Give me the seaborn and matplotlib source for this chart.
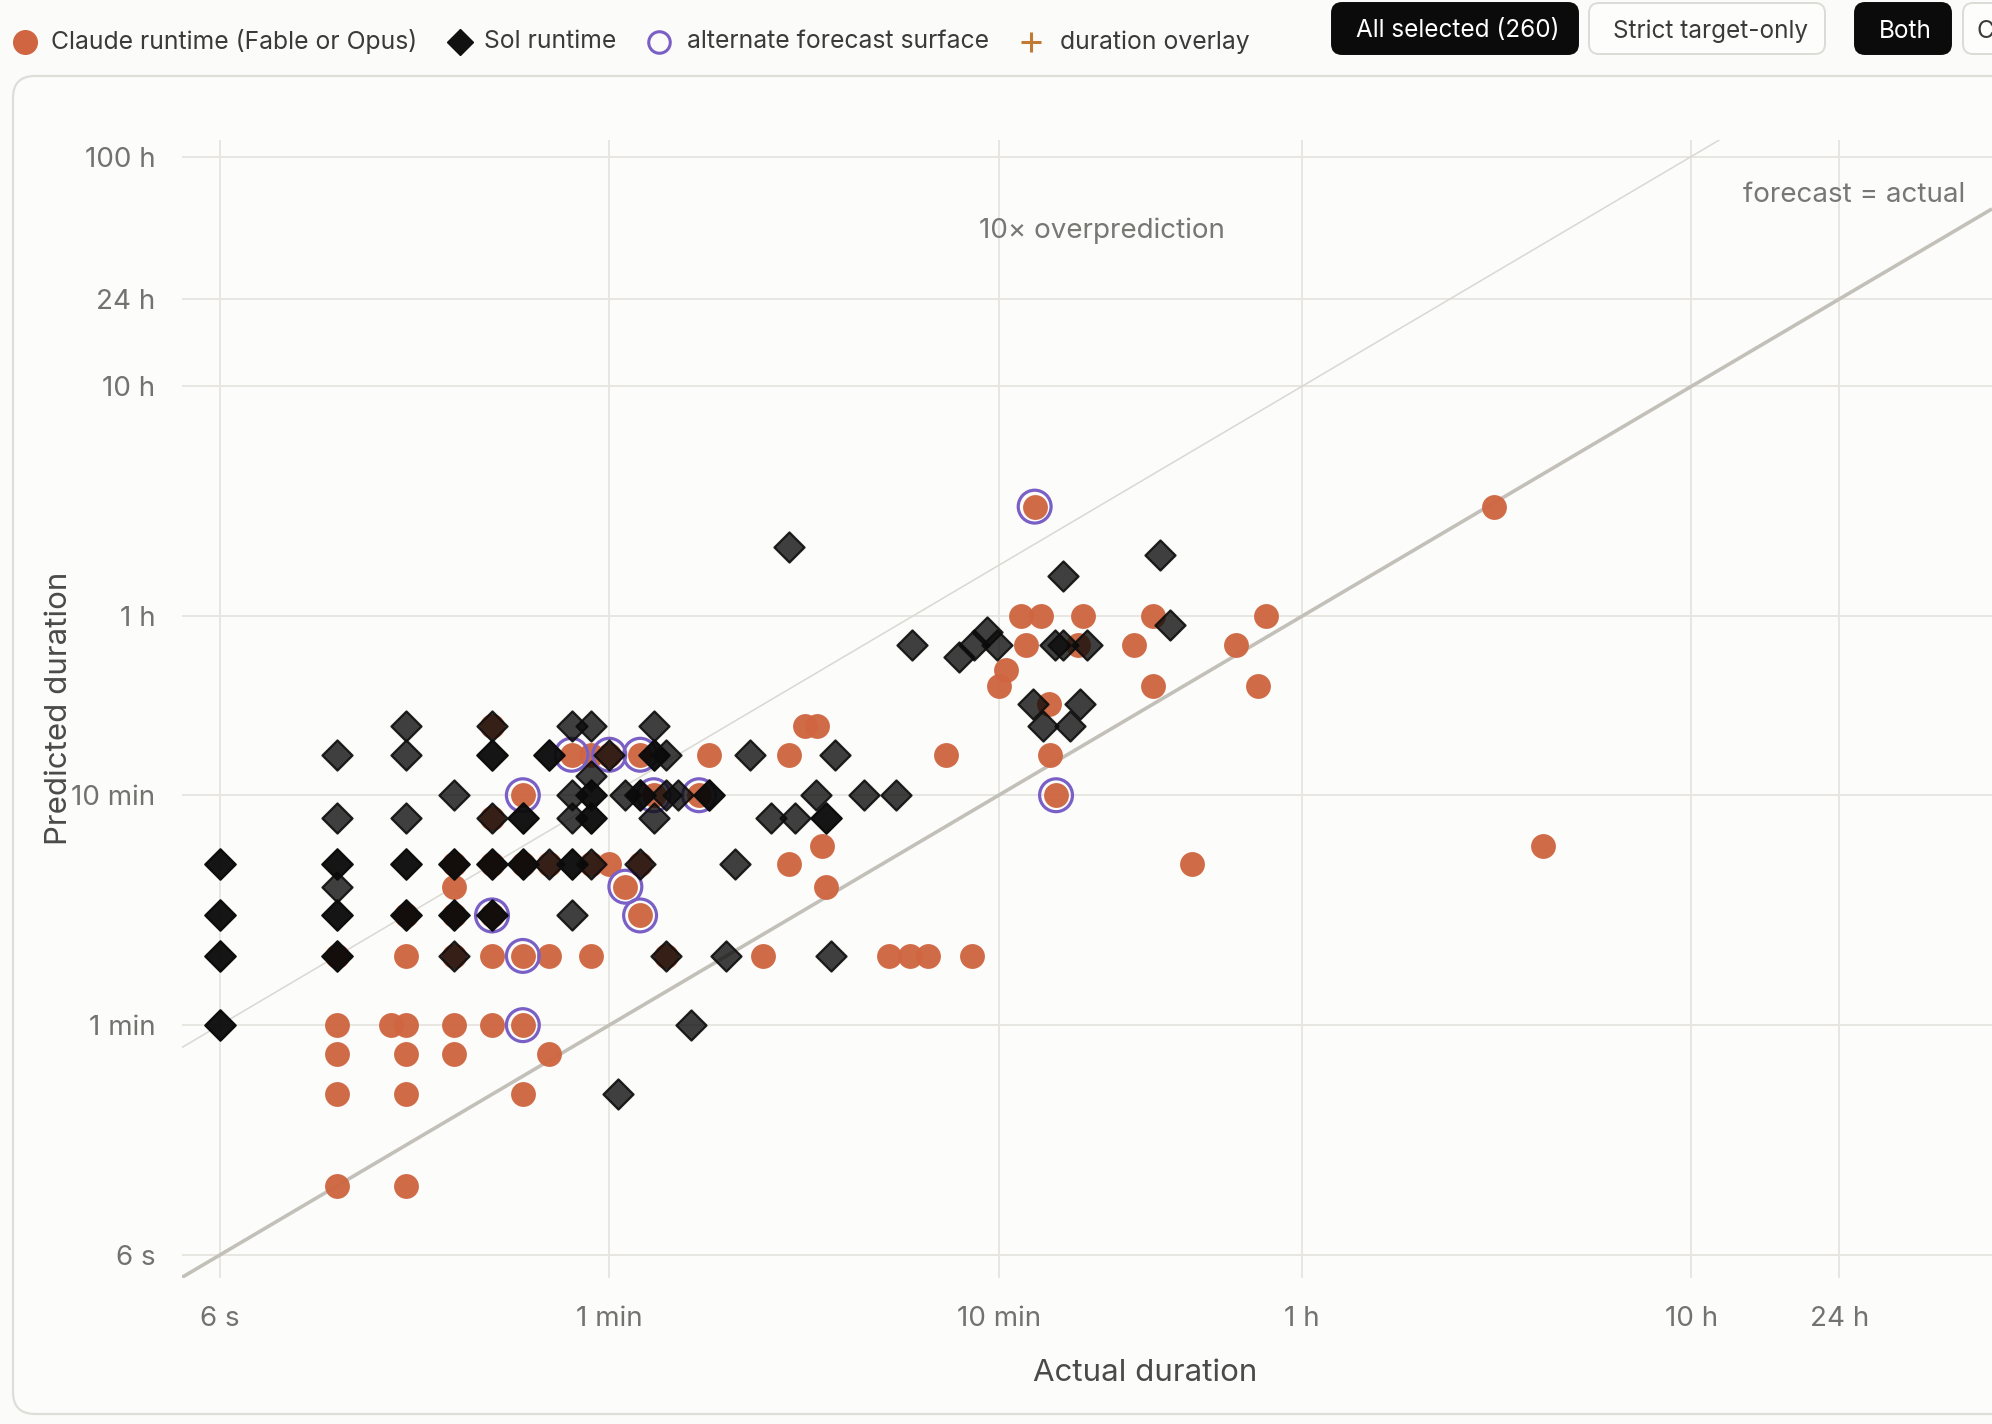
import numpy as np
import pandas as pd
import matplotlib.pyplot as plt
import seaborn as sns
from matplotlib.patches import FancyBboxPatch
from matplotlib.lines import Line2D
from matplotlib.transforms import IdentityTransform

# ── data (seconds) ─────────────────────────────────
claude_actual = [12, 18,
                 12, 18, 36,
                 12, 18, 24, 42,
                 12, 16.5, 18, 24, 30, 36,
                 12, 18, 24, 30, 36, 42, 54, 84, 149, 314, 355, 394, 512,
                 18, 24, 30, 72,
                 24, 66, 216,
                 24, 30, 36, 42, 54, 60, 72, 174, 1879,
                 211, 14939,
                 30,
                 36, 78, 102, 842,
                 48, 54, 60, 72, 108, 174, 440, 812,
                 30, 191, 205,
                 808,
                 600, 1494, 2772,
                 627,
                 705, 958, 1333, 2434,
                 685, 770, 989, 1496, 2905,
                 742, 11232]
claude_pred = [12, 12,
               30, 30, 30,
               45, 45, 45, 45,
               60, 60, 60, 60, 60, 60,
               120, 120, 120, 120, 120, 120, 120, 120, 120, 120, 120, 120, 120,
               180, 180, 180, 180,
               240, 240, 240,
               300, 300, 300, 300, 300, 300, 300, 300, 300,
               360, 360,
               480,
               600, 600, 600, 600,
               900, 900, 900, 900, 900, 900, 900, 900,
               1200, 1200, 1200,
               1500,
               1800, 1800, 1800,
               2100,
               2700, 2700, 2700, 2700,
               3600, 3600, 3600, 3600, 3600,
               10800, 10800]

sol_actual = [6, 6, 6, 6, 6, 6, 6, 6,
              12, 12, 12, 12, 12, 12, 12, 12, 12,
              18, 18, 18, 18, 18, 18, 18,
              24, 24, 24, 24, 24, 24,
              30, 30, 30, 30, 30, 30, 30, 30,
              36, 36, 36, 36,
              42, 42, 42,
              48, 48, 48, 48, 48, 48,
              54, 54, 54, 54, 54, 54, 54,
              60, 63, 66,
              72, 72, 72,
              78, 78, 78, 78,
              84, 84, 84,
              90, 97, 108, 108,
              120, 126, 138, 156, 174, 180, 204, 216, 216, 222, 228, 270, 326,
              360, 474, 518, 561, 594, 838, 877, 1012,
              733, 971, 780, 913, 877, 1558, 1650]
sol_pred = [60, 60, 120, 120, 180, 180, 300, 300,
            120, 120, 180, 180, 240, 300, 300, 480, 900,
            180, 180, 300, 300, 480, 900, 1200,
            120, 180, 180, 300, 300, 600,
            180, 180, 300, 300, 480, 900, 900, 1200,
            300, 300, 480, 480,
            300, 900, 900,
            180, 300, 300, 480, 600, 1200,
            300, 480, 480, 600, 600, 727, 1200,
            900, 30, 600,
            300, 600, 600,
            480, 900, 900, 1200,
            120, 600, 900,
            600, 60, 600, 600,
            120, 300, 900, 480, 7200, 480, 600, 480, 480, 120, 900, 600, 600,
            2700, 2400, 2700, 3080, 2700, 2700, 2700, 2700,
            1500, 1500, 1200, 1200, 5400, 6640, 3300]

alt_actual = [36, 30, 36, 36, 48, 60, 72, 78, 102, 66, 72, 742, 842]
alt_pred = [600, 180, 120, 60, 900, 900, 900, 600, 600, 240, 180, 10800, 600]

x_ticks = [6, 60, 600, 3600, 36000, 86400]
x_tick_labels = ['6 s', '1 min', '10 min', '1 h', '10 h', '24 h']
y_ticks = [6, 60, 600, 3600, 36000, 86400, 360000]
y_tick_labels = ['6 s', '1 min', '10 min', '1 h', '10 h', '24 h', '100 h']

legend_labels = ['Claude runtime (Fable or Opus)', 'Sol runtime',
                 'alternate forecast surface', 'duration overlay']

claude = pd.DataFrame({'actual': claude_actual, 'predicted': claude_pred})
sol = pd.DataFrame({'actual': sol_actual, 'predicted': sol_pred})
alt = pd.DataFrame({'actual': alt_actual, 'predicted': alt_pred})

ORANGE = '#cf6641'
PURPLE = '#7a60c6'
BG = '#fbfbf9'
CARD = '#fcfcfa'

sns.set_style('white')
plt.rcParams['font.family'] = ['Inter', 'DejaVu Sans']

fig = plt.figure(figsize=(19.92, 14.24), dpi=100, facecolor=BG)
px = IdentityTransform()

# card behind the chart
fig.add_artist(FancyBboxPatch((13, 10), 2100, 1338,
                              boxstyle='round,pad=0,rounding_size=22',
                              transform=px, facecolor=CARD,
                              edgecolor='#deded8', linewidth=1.6, zorder=0))

ax = fig.add_axes([0.0912, 0.1027, 0.9088, 0.7992])
ax.set_facecolor('none')

xlo, xhi = 4.79, 213000
ylo, yhi = 4.78, 426000
ax.set_xscale('log')
ax.set_yscale('log')
ax.set_xlim(xlo, xhi)
ax.set_ylim(ylo, yhi)

# reference lines
ax.plot([xlo, xhi], [xlo, xhi], color='#c2c0b9', lw=2.6, zorder=2, solid_capstyle='butt')
ax.plot([xlo, yhi / 10], [xlo * 10, yhi], color='#d9d8d3', lw=1.1, zorder=2)

# points
sns.scatterplot(data=claude, x='actual', y='predicted', ax=ax, color=ORANGE,
                marker='o', s=320, linewidth=0, alpha=0.97, zorder=3, legend=False)
sns.scatterplot(data=alt, x='actual', y='predicted', ax=ax, marker='o', s=560,
                linewidth=2.3, zorder=4, legend=False)
ax.collections[-1].set_facecolor('none')
ax.collections[-1].set_edgecolor(PURPLE)
sns.scatterplot(data=sol, x='actual', y='predicted', ax=ax, marker='D', s=235,
                linewidth=1.6, zorder=5, legend=False)
ax.collections[-1].set_facecolor((0.04, 0.04, 0.04, 0.78))
ax.collections[-1].set_edgecolor((0.05, 0.05, 0.05, 0.9))

ax.text(1105, 171900, '10× overprediction', color='#777773', fontsize=20,
        ha='center', va='center')
ax.text(182000, 246000, 'forecast = actual', color='#777773', fontsize=20,
        ha='right', va='center')

ax.set_xticks(x_ticks)
ax.set_xticklabels(x_tick_labels)
ax.set_yticks(y_ticks)
ax.set_yticklabels(y_tick_labels)
ax.minorticks_off()
ax.tick_params(axis='both', length=0, labelsize=20, colors='#72726e')
ax.tick_params(axis='x', pad=20)
ax.tick_params(axis='y', pad=19)
ax.grid(True, color='#e7e6e1', lw=1.4, zorder=0)
ax.set_axisbelow(True)
for sp in ax.spines.values():
    sp.set_visible(False)

ax.set_xlabel('Actual duration', fontsize=22.5, color='#4a4a47', va='center')
ax.set_ylabel('Predicted duration', fontsize=22.5, color='#4a4a47', va='center')
ax.xaxis.set_label_coords(0.532, -0.084)
ax.yaxis.set_label_coords(-0.068, 0.5)

# legend drawn along the top
ly = 1382
fig.add_artist(Line2D([25], [ly], transform=px, marker='o', ms=17, color=ORANGE, lw=0))
fig.add_artist(Line2D([460], [ly], transform=px, marker='D', ms=13.5,
                      markerfacecolor='#111111', markeredgecolor='#111111', lw=0))
fig.add_artist(Line2D([659], [ly], transform=px, marker='o', ms=15.5,
                      markerfacecolor='none', markeredgecolor=PURPLE, mew=2.2, lw=0))
fig.add_artist(Line2D([1031], [ly], transform=px, marker='+', ms=14,
                      color='#c07a35', mew=2.2, lw=0))
for xt, lab in zip([51, 484, 687, 1060], legend_labels):
    fig.text(xt / 1992, ly / 1424, lab, fontsize=17.8, color='#3a3a38',
             ha='left', va='center')

# toggle buttons at the top right
buttons = [(1332, 246, 'All selected (260)', True),
           (1589, 236, 'Strict target-only', False),
           (1855, 96, 'Both', True),
           (1963, 200, 'C', False)]
for bx, bw, lab, dark in buttons:
    fig.add_artist(FancyBboxPatch((bx, 1370), bw, 51,
                                  boxstyle='round,pad=0,rounding_size=10',
                                  transform=px,
                                  facecolor='#0b0b0b' if dark else '#fdfdfc',
                                  edgecolor='#0b0b0b' if dark else '#dcdcd6',
                                  linewidth=1.4))
    tx = bx + 24 if lab != 'C' else 1976
    fig.text(tx / 1992, 1393 / 1424, lab, fontsize=17.5,
             color='white' if dark else '#3a3a38', ha='left', va='center')

plt.savefig('out.png', dpi=100, facecolor=BG)
